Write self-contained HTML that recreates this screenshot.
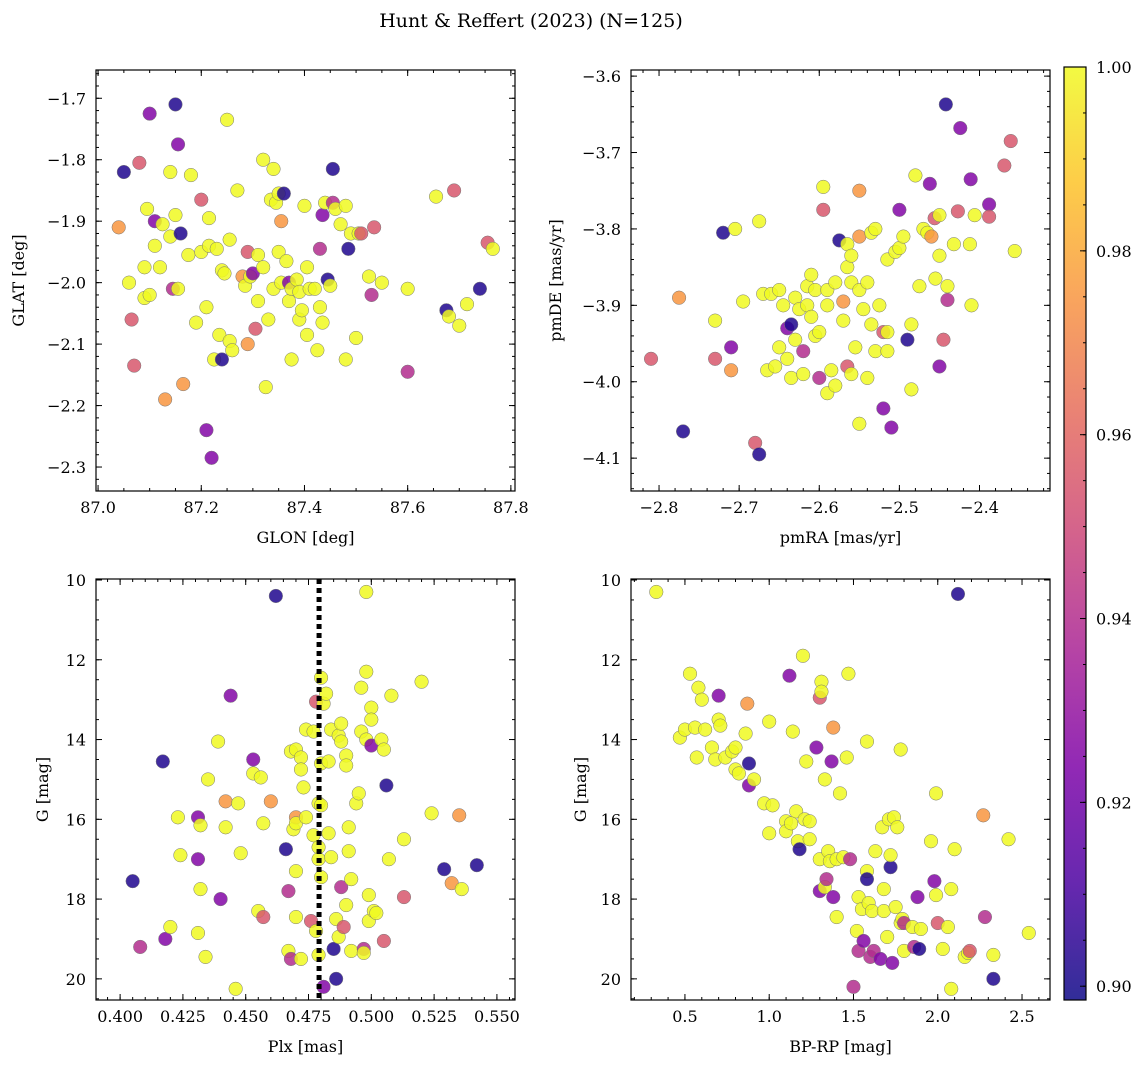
<!DOCTYPE html>
<html><head><meta charset="utf-8">
<style>
html,body{margin:0;padding:0;background:#fff;}
svg{display:block;font-family:"DejaVu Serif","Liberation Serif",serif;}
</style></head>
<body>
<svg id="fig" width="1148" height="1067" viewBox="0 0 1148 1067" xmlns="http://www.w3.org/2000/svg">
<text x="531" y="27" font-size="19" text-anchor="middle">Hunt &amp; Reffert (2023) (N=125)</text>
</svg>
<script>
const B=0.902,P=0.925,M=0.94,K=0.955,O=0.975,Y=1.0;
// Panel 1: GLON / GLAT / prob
const glonData=[[87.04,-1.91,O],[87.05,-1.82,B],[87.06,-2.0,Y],[87.065,-2.06,K],[87.07,-2.135,K],[87.08,-1.805,K],[87.09,-1.975,Y],[87.09,-2.025,Y],[87.095,-1.88,Y],[87.10,-2.02,Y],[87.10,-1.725,P],[87.11,-1.94,Y],[87.11,-1.90,P],[87.12,-1.975,Y],[87.125,-1.905,Y],[87.13,-2.19,O],[87.14,-1.925,Y],[87.14,-1.82,Y],[87.145,-2.01,M],[87.15,-1.71,B],[87.15,-1.89,Y],[87.155,-1.775,P],[87.155,-2.01,Y],[87.16,-1.92,B],[87.165,-2.165,O],[87.175,-1.955,Y],[87.18,-1.825,Y],[87.19,-2.065,Y],[87.2,-1.865,K],[87.2,-1.95,Y],[87.21,-2.04,Y],[87.215,-1.895,Y],[87.215,-1.94,Y],[87.21,-2.24,P],[87.22,-2.285,P],[87.225,-2.125,Y],[87.23,-1.945,Y],[87.235,-2.085,Y],[87.24,-2.125,B],[87.24,-1.98,Y],[87.245,-1.985,Y],[87.25,-1.735,Y],[87.255,-2.095,Y],[87.255,-1.93,Y],[87.26,-2.11,Y],[87.27,-1.85,Y],[87.28,-1.99,O],[87.285,-2.005,Y],[87.29,-2.1,O],[87.29,-1.95,K],[87.295,-1.99,Y],[87.30,-1.985,P],[87.305,-2.075,K],[87.31,-1.955,Y],[87.31,-2.03,Y],[87.32,-1.80,Y],[87.32,-1.975,Y],[87.325,-2.17,Y],[87.33,-2.06,Y],[87.335,-1.865,Y],[87.34,-1.815,Y],[87.34,-2.01,Y],[87.345,-1.87,Y],[87.35,-1.855,Y],[87.35,-1.95,Y],[87.355,-1.9,O],[87.355,-2.0,Y],[87.36,-1.855,B],[87.365,-1.965,Y],[87.37,-2.0,P],[87.37,-2.03,Y],[87.375,-2.01,Y],[87.375,-2.125,Y],[87.385,-1.995,Y],[87.39,-2.06,Y],[87.39,-2.015,Y],[87.395,-2.045,Y],[87.40,-1.875,Y],[87.405,-1.975,Y],[87.405,-2.085,Y],[87.41,-2.01,Y],[87.42,-2.01,Y],[87.425,-2.11,Y],[87.43,-1.945,M],[87.43,-2.04,Y],[87.435,-1.89,P],[87.435,-2.065,Y],[87.44,-1.87,Y],[87.445,-1.995,B],[87.45,-2.005,Y],[87.455,-1.815,B],[87.455,-1.87,M],[87.46,-1.88,Y],[87.47,-1.905,Y],[87.48,-1.875,Y],[87.48,-2.125,Y],[87.485,-1.945,B],[87.49,-1.92,Y],[87.50,-2.09,Y],[87.505,-1.92,Y],[87.51,-1.92,K],[87.525,-1.99,Y],[87.53,-2.02,M],[87.535,-1.91,K],[87.55,-2.0,Y],[87.60,-2.01,Y],[87.60,-2.145,M],[87.655,-1.86,Y],[87.675,-2.045,B],[87.68,-2.055,Y],[87.69,-1.85,K],[87.70,-2.07,Y],[87.715,-2.035,Y],[87.74,-2.01,B],[87.755,-1.935,K],[87.765,-1.945,Y]];
// Panel 2: pmRA / pmDE / prob
const pmData=[[-2.81,-3.97,K],[-2.775,-3.89,O],[-2.77,-4.065,B],[-2.73,-3.92,Y],[-2.73,-3.97,K],[-2.72,-3.805,B],[-2.71,-3.955,P],[-2.71,-3.985,O],[-2.705,-3.8,Y],[-2.695,-3.895,Y],[-2.68,-4.08,K],[-2.675,-4.095,B],[-2.675,-3.79,Y],[-2.67,-3.885,Y],[-2.665,-3.985,Y],[-2.66,-3.885,Y],[-2.655,-3.98,Y],[-2.65,-3.955,Y],[-2.65,-3.88,Y],[-2.645,-3.9,Y],[-2.64,-3.93,P],[-2.64,-3.97,Y],[-2.635,-3.925,B],[-2.635,-3.995,Y],[-2.63,-3.89,Y],[-2.63,-3.945,Y],[-2.625,-3.905,Y],[-2.62,-3.96,M],[-2.62,-3.99,Y],[-2.615,-3.875,Y],[-2.615,-3.9,Y],[-2.61,-3.86,Y],[-2.61,-3.915,Y],[-2.605,-3.94,Y],[-2.605,-3.88,Y],[-2.60,-3.995,M],[-2.60,-3.935,Y],[-2.595,-3.775,K],[-2.595,-3.745,Y],[-2.59,-3.88,Y],[-2.59,-3.9,Y],[-2.59,-4.015,Y],[-2.585,-3.985,Y],[-2.58,-4.005,Y],[-2.58,-3.87,Y],[-2.575,-3.815,B],[-2.57,-3.92,Y],[-2.57,-3.895,O],[-2.565,-3.82,Y],[-2.565,-3.85,Y],[-2.56,-3.835,Y],[-2.56,-3.87,Y],[-2.565,-3.98,K],[-2.56,-3.99,Y],[-2.555,-3.955,Y],[-2.55,-4.055,Y],[-2.55,-3.81,O],[-2.55,-3.75,O],[-2.55,-3.88,Y],[-2.545,-3.905,Y],[-2.54,-3.995,Y],[-2.54,-3.87,Y],[-2.535,-3.925,Y],[-2.535,-3.805,Y],[-2.53,-3.8,Y],[-2.53,-3.96,Y],[-2.525,-3.9,Y],[-2.52,-3.935,K],[-2.52,-4.035,P],[-2.515,-3.935,Y],[-2.515,-3.96,Y],[-2.515,-3.84,Y],[-2.51,-4.06,P],[-2.505,-3.83,Y],[-2.50,-3.825,Y],[-2.50,-3.775,P],[-2.495,-3.81,Y],[-2.49,-3.945,B],[-2.485,-3.925,Y],[-2.485,-4.01,Y],[-2.48,-3.73,Y],[-2.475,-3.875,Y],[-2.47,-3.8,Y],[-2.465,-3.805,Y],[-2.46,-3.81,O],[-2.455,-3.865,Y],[-2.45,-3.98,P],[-2.45,-3.835,Y],[-2.445,-3.945,K],[-2.44,-3.875,Y],[-2.462,-3.741,P],[-2.456,-3.786,K],[-2.45,-3.782,Y],[-2.44,-3.893,M],[-2.442,-3.637,B],[-2.424,-3.668,P],[-2.411,-3.735,P],[-2.427,-3.777,K],[-2.432,-3.82,Y],[-2.412,-3.82,Y],[-2.406,-3.782,Y],[-2.41,-3.9,Y],[-2.388,-3.768,P],[-2.388,-3.784,K],[-2.369,-3.717,K],[-2.361,-3.685,K],[-2.356,-3.829,Y]];
// Panel 3: Plx / G / prob
const plxData=[[0.405,17.55,B],[0.408,19.2,M],[0.417,14.55,B],[0.418,19.0,P],[0.42,18.7,Y],[0.423,15.95,Y],[0.424,16.9,Y],[0.431,15.95,P],[0.431,17.0,P],[0.431,18.85,Y],[0.432,16.15,Y],[0.432,17.75,Y],[0.434,19.45,Y],[0.435,15.0,Y],[0.439,14.05,Y],[0.44,18.0,P],[0.442,15.55,O],[0.442,16.2,Y],[0.444,12.9,P],[0.446,20.25,Y],[0.447,15.6,Y],[0.448,16.85,Y],[0.453,14.5,P],[0.453,14.85,Y],[0.455,18.3,Y],[0.456,14.95,Y],[0.457,16.1,Y],[0.457,18.45,K],[0.46,15.55,O],[0.462,10.4,B],[0.466,16.75,B],[0.467,17.8,M],[0.467,19.3,Y],[0.468,19.5,M],[0.468,14.3,Y],[0.469,16.25,Y],[0.47,14.25,Y],[0.47,15.95,O],[0.47,16.1,Y],[0.47,17.3,Y],[0.47,18.45,Y],[0.472,14.45,Y],[0.472,14.75,Y],[0.472,19.5,Y],[0.473,15.2,Y],[0.474,13.75,Y],[0.474,15.95,Y],[0.476,18.55,K],[0.477,13.8,Y],[0.477,16.4,Y],[0.478,13.05,K],[0.478,18.8,Y],[0.479,15.6,Y],[0.479,16.7,Y],[0.479,17.0,Y],[0.479,19.4,Y],[0.48,12.45,Y],[0.48,14.6,Y],[0.48,15.65,Y],[0.48,17.45,Y],[0.481,20.2,P],[0.481,13.1,Y],[0.482,12.85,Y],[0.483,14.55,Y],[0.483,16.35,Y],[0.484,13.75,Y],[0.484,16.95,Y],[0.485,19.25,B],[0.486,18.5,Y],[0.486,20.0,B],[0.487,13.9,Y],[0.487,18.95,Y],[0.488,14.05,Y],[0.488,13.6,Y],[0.488,17.7,M],[0.489,18.7,K],[0.49,14.4,Y],[0.49,14.65,Y],[0.49,18.15,Y],[0.491,16.2,Y],[0.491,16.8,Y],[0.492,17.5,Y],[0.492,19.3,Y],[0.494,15.6,Y],[0.495,15.35,Y],[0.496,13.8,Y],[0.496,12.7,Y],[0.497,19.25,M],[0.497,19.35,Y],[0.498,10.3,Y],[0.498,12.3,Y],[0.498,14.0,Y],[0.499,18.55,Y],[0.499,17.9,Y],[0.5,13.2,Y],[0.5,13.5,Y],[0.5,14.15,P],[0.501,18.3,Y],[0.502,18.35,Y],[0.504,14.0,Y],[0.505,14.25,Y],[0.505,19.05,K],[0.506,15.15,B],[0.507,17.0,Y],[0.508,12.9,Y],[0.513,16.5,Y],[0.513,17.95,K],[0.52,12.55,Y],[0.524,15.85,Y],[0.529,17.25,B],[0.532,17.6,O],[0.535,15.9,O],[0.536,17.75,Y],[0.542,17.15,B]];
const plxMean=0.4792;
// Panel 4: BP-RP / G / prob
const cmdData=[[0.33,10.3,Y],[0.47,13.95,Y],[0.5,13.75,Y],[0.53,12.35,Y],[0.56,13.7,Y],[0.57,14.45,Y],[0.58,12.7,Y],[0.6,13.0,Y],[0.62,13.75,Y],[0.66,14.2,Y],[0.68,14.5,Y],[0.7,12.9,P],[0.7,13.5,Y],[0.71,13.65,Y],[0.74,14.45,Y],[0.78,14.3,Y],[0.8,14.2,Y],[0.8,14.75,Y],[0.82,14.85,Y],[0.86,13.85,Y],[0.87,13.1,O],[0.88,14.6,B],[0.88,15.15,P],[0.91,15.0,Y],[0.97,15.6,Y],[1.0,13.55,Y],[1.0,16.35,Y],[1.02,15.65,Y],[1.1,16.05,Y],[1.1,16.3,Y],[1.12,12.4,P],[1.13,16.1,Y],[1.14,13.8,Y],[1.16,15.8,Y],[1.17,16.55,Y],[1.18,16.75,B],[1.2,11.9,Y],[1.21,16.0,Y],[1.22,14.55,Y],[1.24,16.05,Y],[1.24,16.5,Y],[1.28,14.2,P],[1.3,12.95,K],[1.3,17.0,Y],[1.3,17.8,P],[1.31,12.55,Y],[1.31,12.8,Y],[1.33,15.0,Y],[1.33,17.7,Y],[1.34,17.5,M],[1.35,16.8,Y],[1.36,17.05,Y],[1.37,14.55,P],[1.38,13.7,O],[1.38,17.95,P],[1.4,17.0,Y],[1.4,18.45,Y],[1.42,15.35,Y],[1.44,16.95,Y],[1.46,14.45,Y],[1.47,12.35,Y],[1.48,17.0,M],[1.5,20.2,M],[1.52,18.8,Y],[1.53,17.95,Y],[1.53,19.3,M],[1.55,18.25,Y],[1.56,19.05,P],[1.58,14.05,Y],[1.58,17.3,Y],[1.58,17.5,B],[1.59,18.1,Y],[1.6,19.45,M],[1.61,18.3,Y],[1.62,19.3,M],[1.63,16.8,Y],[1.66,19.5,P],[1.67,16.2,Y],[1.68,17.75,Y],[1.68,18.3,Y],[1.7,18.95,Y],[1.71,16.0,Y],[1.72,17.2,B],[1.72,16.9,Y],[1.73,19.6,P],[1.74,15.95,Y],[1.75,18.2,Y],[1.76,16.2,Y],[1.78,14.25,Y],[1.78,18.6,Y],[1.79,18.5,Y],[1.8,18.6,M],[1.8,19.3,Y],[1.85,18.7,Y],[1.86,19.2,M],[1.88,17.95,P],[1.89,19.25,B],[1.9,18.75,Y],[1.96,16.55,Y],[1.98,17.55,P],[1.99,15.35,Y],[1.99,17.9,Y],[2.0,18.6,K],[2.03,19.25,Y],[2.06,18.7,Y],[2.08,17.75,Y],[2.08,20.25,Y],[2.1,16.75,Y],[2.12,10.35,B],[2.16,19.45,Y],[2.18,19.35,Y],[2.19,19.3,K],[2.27,15.9,O],[2.28,18.45,M],[2.33,20.0,B],[2.33,19.4,Y],[2.42,16.5,Y],[2.54,18.85,Y]];
const cbTicks=[0.90,0.92,0.94,0.96,0.98,1.00];
const cMin=0.8985,cMax=1.0;

const NS="http://www.w3.org/2000/svg";
const svg=document.getElementById('fig');
const plasma=[[13,8,135],[76,2,161],[126,3,168],[169,35,149],[204,71,120],[229,107,93],[248,148,65],[253,195,40],[240,249,33]];
function cmap(v){let t=Math.max(0,Math.min(1,(v-cMin)/(cMax-cMin)))*8;let i=Math.min(7,Math.floor(t));let f=t-i;
 const a=plasma[i],b=plasma[i+1];return 'rgb('+a.map((x,k)=>Math.round(x+(b[k]-x)*f)).join(',')+')';}
function el(tag,attrs,parent){const e=document.createElementNS(NS,tag);for(const k in attrs)e.setAttribute(k,attrs[k]);(parent||svg).appendChild(e);return e;}
function fmt(v,d){return (v<0?'\u2212':'')+Math.abs(v).toFixed(d);}

function panel(name,box,xr,yr,xMaj,xMin,yMaj,yMin,xd,yd,xlab,ylab,data,inv,ylOff){
 const [L,T,R,Bt]=box;
 const g=el('g',{});
 
 
 const sx=v=>L+(v-xr[0])/(xr[1]-xr[0])*(R-L);
 const sy=v=>inv? T+(v-yr[0])/(yr[1]-yr[0])*(Bt-T) : Bt-(v-yr[0])/(yr[1]-yr[0])*(Bt-T);
 const pts=el('g',{},g);
 
 
 data.forEach(d=>{
  const c=el('circle',{cx:sx(d[0]),cy:sy(d[1]),r:6.8,fill:cmap(d[2]),'fill-opacity':0.85,stroke:'#777','stroke-width':0.5},pts);
  
  
 });
 const ax=el('g',{},g);
 
 
 el('rect',{x:L,y:T,width:R-L,height:Bt-T,fill:'none',stroke:'#000','stroke-width':1.2},ax);
 const eps=1e-9;
 const tick=(v0,step,lo,hi,fn)=>{let s=Math.ceil((lo-eps)/step)*step;for(let v=s;v<=hi+eps;v+=step)fn(v);};
 const xlo=Math.min(...xr),xhi=Math.max(...xr),ylo=Math.min(...yr),yhi=Math.max(...yr);
 tick(0,xMin,xlo,xhi,v=>{const x=sx(v);el('line',{x1:x,x2:x,y1:Bt,y2:Bt-3,stroke:'#000'},ax);el('line',{x1:x,x2:x,y1:T,y2:T+3,stroke:'#000'},ax);});
 tick(0,yMin,ylo,yhi,v=>{const y=sy(v);el('line',{x1:L,x2:L+3,y1:y,y2:y,stroke:'#000'},ax);el('line',{x1:R,x2:R-3,y1:y,y2:y,stroke:'#000'},ax);});
 tick(0,xMaj,xlo,xhi,v=>{const x=sx(v);el('line',{x1:x,x2:x,y1:Bt,y2:Bt-6,stroke:'#000'},ax);el('line',{x1:x,x2:x,y1:T,y2:T+6,stroke:'#000'},ax);
  const t=el('text',{x:x,y:Bt+22,'font-size':16,'text-anchor':'middle'},ax);t.textContent=fmt(Math.abs(v)<eps?0:v,xd);
  
  });
 tick(0,yMaj,ylo,yhi,v=>{const y=sy(v);el('line',{x1:L,x2:L+6,y1:y,y2:y,stroke:'#000'},ax);el('line',{x1:R,x2:R-6,y1:y,y2:y,stroke:'#000'},ax);
  const t=el('text',{x:L-10,y:y+6,'font-size':16,'text-anchor':'end'},ax);t.textContent=fmt(v,yd);
  
  });
 const xl=el('text',{x:(L+R)/2,y:Bt+52,'font-size':16,'text-anchor':'middle'},ax);xl.textContent=xlab;
 
 
 const yl=el('text',{x:0,y:0,'font-size':16,'text-anchor':'middle',transform:`translate(${L-ylOff},${(T+Bt)/2}) rotate(-90)`},ax);yl.textContent=ylab;
 
 
 return {sx,sy,g};
}

panel('glon-glat-panel',[96,70,515,491],[86.996,87.808],[-2.339,-1.654],0.2,0.05,0.1,0.02,1,1,'GLON [deg]','GLAT [deg]',glonData,false,72);
panel('pm-panel',[631,70,1050,491],[-2.835,-2.312],[-4.143,-3.592],0.1,0.02,0.1,0.02,1,1,'pmRA [mas/yr]','pmDE [mas/yr]',pmData,false,70);
const p3=panel('plx-g-panel',[96,579,515,1000],[0.3904,0.5572],[9.975,20.53],0.025,0.005,2,0.5,3,0,'Plx [mas]','G [mag]',plxData,true,48);
panel('cmd-panel',[631,579,1050,1000],[0.18,2.666],[9.975,20.53],0.5,0.1,2,0.5,1,0,'BP-RP [mag]','G [mag]',cmdData,true,45);
const ml=el('line',{x1:p3.sx(plxMean),x2:p3.sx(plxMean),y1:579,y2:1000,stroke:'#000','stroke-width':5,'stroke-dasharray':'5,4'},p3.g);



// colorbar
const cb=el('g',{});


const defs=el('defs',{},svg);
const gr=el('linearGradient',{id:'cbg',x1:0,y1:1,x2:0,y2:0},defs);
plasma.forEach((c,i)=>el('stop',{offset:i/8,'stop-color':`rgb(${c.join(',')})`,'stop-opacity':0.85},gr));
const cT=67,cB=1000,cL=1064,cR=1086;
el('rect',{x:cL,y:cT,width:cR-cL,height:cB-cT,fill:'url(#cbg)',stroke:'#000','stroke-width':1.2},cb);
const cy=v=>cB-(v-cMin)/(cMax-cMin)*(cB-cT);
for(let v=0.90;v<=1.0001;v+=0.005){const y=cy(v);el('line',{x1:cR,x2:cR-3,y1:y,y2:y,stroke:'#000'},cb);}
cbTicks.forEach(v=>{const y=cy(v);el('line',{x1:cR,x2:cR-6,y1:y,y2:y,stroke:'#000'},cb);
 const t=el('text',{x:cR+10,y:y+6,'font-size':16},cb);t.textContent=v.toFixed(2);
 
 });
</script>
</body></html>
